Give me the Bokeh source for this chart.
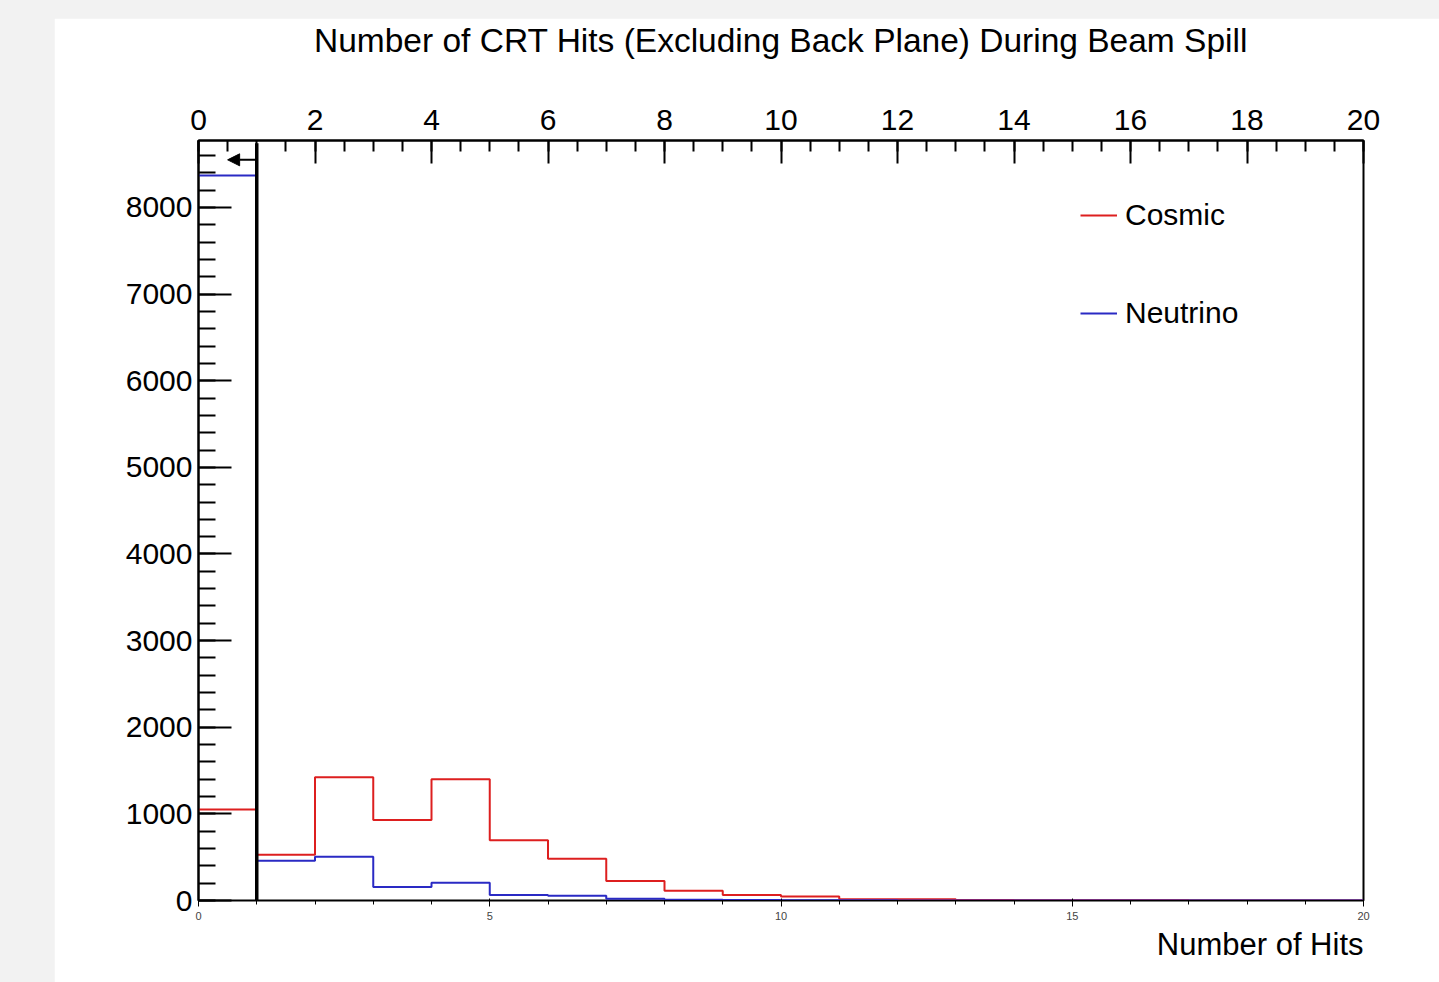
from bokeh.plotting import figure
from bokeh.layouts import column
from bokeh.models import (FixedTicker, Legend, LegendItem, Arrow, NormalHead, Title, Range1d,
                          LinearAxis)
from bokeh.embed import file_html
from bokeh.resources import INLINE

# ---- data ----
bin_edges = list(range(0, 21))
cosmic_counts = [1050, 527, 1423, 930, 1400, 695, 482, 224, 112, 64, 45, 15, 15, 5, 3, 2, 2, 1, 1, 1]
neutrino_counts = [8370, 460, 504, 157, 205, 64, 56, 19, 8, 5, 3, 2, 1, 1, 0, 0, 0, 0, 0, 0]
series_names = ["Cosmic", "Neutrino"]
x_ticks = list(range(0, 21, 2))
y_ticks = list(range(0, 9000, 1000))
cut_value = 1.0
cut_top = 8740
arrow_y = 8550
arrow_tip = 0.5
y_max = 8773
title_text = "Number of CRT Hits (Excluding Back Plane) During Beam Spill"
x_label = "Number of Hits"

FONT = "Liberation Sans"
RED = "#dd1f1f"
BLUE = "#2a2ac4"

p = figure(width=1385, height=964, output_backend="svg", toolbar_location=None,
           x_range=Range1d(0, 20), y_range=Range1d(0, y_max),
           min_border_left=144, min_border_right=76, min_border_top=99, min_border_bottom=82,
           margin=(18, 0, 0, 54))
p.title = None
p.background_fill_color = "white"
p.border_fill_color = "white"
p.outline_line_color = "black"
p.outline_line_width = 2
p.xgrid.visible = False
p.ygrid.visible = False

# title: drawn as the label of a tick-less axis above the frame, so its distance can be set
title_axis = LinearAxis(ticker=FixedTicker(ticks=[]), axis_label=title_text,
                        axis_line_color=None, major_tick_in=0, major_tick_out=0,
                        minor_tick_in=0, minor_tick_out=0, major_label_standoff=0,
                        axis_label_standoff=48, axis_label_text_font=FONT,
                        axis_label_text_font_size="33.5px", axis_label_text_font_style="normal",
                        axis_label_text_color="black")
p.add_layout(title_axis, "above")

# axes
xa = p.xaxis[0]
xa.ticker = FixedTicker(ticks=x_ticks, minor_ticks=[i * 0.5 for i in range(41)])
xa.major_tick_in = 23
xa.major_tick_out = 0
xa.minor_tick_in = 11
xa.minor_tick_out = 0
xa.major_tick_line_width = 2
xa.minor_tick_line_width = 2
xa.major_tick_line_color = "black"
xa.minor_tick_line_color = "black"
xa.axis_line_color = "black"
xa.axis_line_width = 2
xa.major_label_text_font = FONT
xa.major_label_text_font_size = "30px"
xa.major_label_text_color = "black"
xa.major_label_standoff = 11

ya = p.yaxis[0]
ya.ticker = FixedTicker(ticks=y_ticks, minor_ticks=list(range(0, 8801, 200)))
ya.major_tick_in = 33
ya.major_tick_out = 0
ya.minor_tick_in = 17
ya.minor_tick_out = 0
ya.major_tick_line_width = 2
ya.minor_tick_line_width = 2
ya.major_tick_line_color = "black"
ya.minor_tick_line_color = "black"
ya.axis_line_color = "black"
ya.axis_line_width = 2
ya.major_label_text_font = FONT
ya.major_label_text_font_size = "30px"
ya.major_label_text_color = "black"
ya.major_label_standoff = 6

p.add_layout(Title(text=x_label, align="right", text_font=FONT, text_font_size="31px",
                   text_font_style="normal", text_color="black", standoff=4), "below")

# histograms (step outlines)
xs = bin_edges
cy = cosmic_counts + [cosmic_counts[-1]]
ny = neutrino_counts + [neutrino_counts[-1]]
r_c = p.step(xs, cy, mode="after", line_color=RED, line_width=2)
r_n = p.step(xs, ny, mode="after", line_color=BLUE, line_width=2)

# cut line and arrow
p.segment(x0=[cut_value], y0=[0], x1=[cut_value], y1=[cut_top], line_color="black", line_width=3.5)
p.add_layout(Arrow(x_start=cut_value, y_start=arrow_y, x_end=arrow_tip, y_end=arrow_y,
                   line_color="black", line_width=2,
                   end=NormalHead(size=12, fill_color="black", line_color="black")))

legend = Legend(items=[LegendItem(label=series_names[0], renderers=[r_c]),
                       LegendItem(label=series_names[1], renderers=[r_n])],
                location=(882, 567), orientation="vertical",
                glyph_width=37, glyph_height=40, label_height=40, spacing=58,
                label_standoff=8, padding=0, margin=0,
                label_text_font=FONT, label_text_font_size="30px", label_text_color="black",
                border_line_color=None, background_fill_alpha=0)
p.add_layout(legend)

layout = column(p, width=1439, height=982, styles={"background-color": "#f2f2f2"})

open("out.html", "w").write(file_html(layout, INLINE))
